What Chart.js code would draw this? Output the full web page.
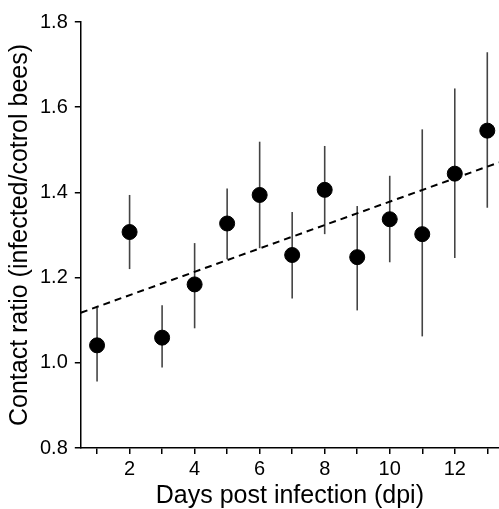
<!DOCTYPE html>
<html>
<head>
<meta charset="utf-8">
<script src="https://cdn.jsdelivr.net/npm/chart.js@4"></script>
<style>
  html, body { margin: 0; padding: 0; background: #fff; }
  #wrap { width: 499px; height: 509px; }
</style>
</head>
<body>
<div id="wrap"><canvas id="contactChart"></canvas></div>
<script>
const days = [1, 2, 3, 4, 5, 6, 7, 8, 9, 10, 11, 12, 13];
const meanRatio = [1.041, 1.307, 1.059, 1.184, 1.327, 1.394, 1.253, 1.406, 1.248, 1.337, 1.302, 1.444, 1.545];
const upperBar = [1.130, 1.394, 1.135, 1.281, 1.409, 1.519, 1.354, 1.509, 1.368, 1.439, 1.548, 1.644, 1.729];
const lowerBar = [0.956, 1.220, 0.989, 1.081, 1.243, 1.269, 1.151, 1.302, 1.123, 1.236, 1.062, 1.246, 1.364];
const yTicks = [0.8, 1.0, 1.2, 1.4, 1.6, 1.8];

const X_MIN = 0.5, X_MAX = 13.36;

// least squares fit of the means, drawn across the whole x range
function fitLine(xs, ys) {
    const n = xs.length;
    const mx = xs.reduce((a, b) => a + b, 0) / n;
    const my = ys.reduce((a, b) => a + b, 0) / n;
    let sxy = 0, sxx = 0;
    xs.forEach((x, i) => { sxy += (x - mx) * (ys[i] - my); sxx += (x - mx) * (x - mx); });
    const slope = sxy / sxx;
    return x => my + slope * (x - mx);
}
const trend = fitLine(days, meanRatio);

const errorBars = {
    id: 'errorBars',
    beforeDatasetsDraw(chart) {
        const { ctx, scales: { x, y } } = chart;
        ctx.save();
        ctx.strokeStyle = '#444';
        ctx.lineWidth = 1.6;
        days.forEach((d, i) => {
            const px = x.getPixelForValue(d);
            ctx.beginPath();
            ctx.moveTo(px, y.getPixelForValue(upperBar[i]));
            ctx.lineTo(px, y.getPixelForValue(lowerBar[i]));
            ctx.stroke();
        });
        ctx.restore();
    }
};

const family = '"Liberation Sans", Arial, sans-serif';

new Chart(document.getElementById('contactChart').getContext('2d'), {
    type: 'scatter',
    data: {
        datasets: [{
            label: 'Trend',
            type: 'line',
            data: [X_MIN, X_MAX].map(v => ({ x: v, y: trend(v) })),
            borderColor: '#000',
            borderWidth: 2,
            borderDash: [7, 5],
            pointRadius: 0,
            fill: false,
            order: 2
        }, {
            label: 'Contact ratio',
            data: days.map((d, i) => ({ x: d, y: meanRatio[i] })),
            backgroundColor: '#000',
            borderColor: '#000',
            pointRadius: 7.5,
            pointHoverRadius: 7.5,
            order: 1
        }]
    },
    options: {
        responsive: true,
        maintainAspectRatio: false,
        animation: false,
        layout: { autoPadding: false, padding: { top: 22, right: 0, left: 8, bottom: 0 } },
        plugins: { legend: { display: false }, tooltip: { enabled: false } },
        scales: {
            x: {
                type: 'linear',
                min: X_MIN,
                max: X_MAX,
                afterBuildTicks: s => { s.ticks = days.map(v => ({ value: v })); },
                ticks: {
                    color: '#000',
                    font: { family, size: 20 },
                    padding: 3,
                    maxRotation: 0,
                    autoSkip: false,
                    callback: v => (v % 2 === 0 ? String(v) : '')
                },
                grid: { drawOnChartArea: false, tickLength: 6, color: '#000', lineWidth: 1.5 },
                border: { color: '#000', width: 1.5 },
                title: { display: true, text: 'Days post infection (dpi)', color: '#000', font: { family, size: 25, lineHeight: 1 }, padding: { top: 0, bottom: 0 } }
            },
            y: {
                min: 0.8,
                max: 1.8,
                afterBuildTicks: s => { s.ticks = yTicks.map(v => ({ value: v })); },
                ticks: {
                    color: '#000',
                    font: { family, size: 20 },
                    padding: 7,
                    callback: v => v.toFixed(1)
                },
                grid: { drawOnChartArea: false, tickLength: 6, color: '#000', lineWidth: 1.5 },
                border: { color: '#000', width: 1.5 },
                title: { display: true, text: 'Contact ratio (infected/cotrol bees)', color: '#000', font: { family, size: 25, lineHeight: 1 }, padding: { top: 0, bottom: 0 } }
            }
        }
    },
    plugins: [errorBars]
});
</script>
</body>
</html>
